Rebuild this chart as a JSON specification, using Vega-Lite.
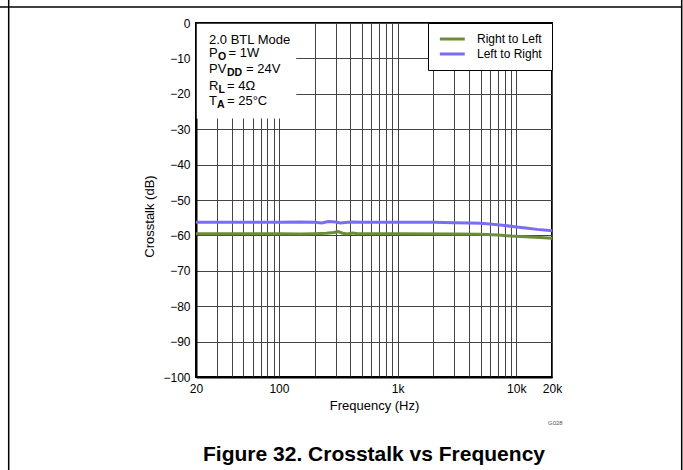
{
  "$schema": "https://vega.github.io/schema/vega-lite/v6.json",
  "autosize": "none",
  "width": 356,
  "height": 354,
  "padding": {"left": 196, "top": 23, "right": 131, "bottom": 93},
  "background": "white",
  "config": {
    "font": "Liberation Sans",
    "view": {"stroke": "black", "strokeWidth": 2},
    "axis": {"labelColor": "black", "titleColor": "black", "labelFont": "Liberation Sans", "titleFont": "Liberation Sans",
      "grid": true, "gridColor": "#444", "gridWidth": 1, "ticks": false, "domain": true, "domainColor": "black", "domainWidth": 2,
      "labelFontSize": 12, "labelPadding": 6, "labelFlush": false, "labelBound": false, "labelOverlap": false,
      "titleFontSize": 13, "titleFontWeight": "normal"},
    "axisX": {"tickCount": 30, "titlePadding": 5,
      "labelExpr": "indexof([20,100,1000,10000,20000], datum.value) >= 0 ? (datum.value >= 1000 ? (datum.value/1000) + 'k' : datum.value + '') : ''"},
    "axisY": {"tickCount": 11, "titlePadding": 6, "titleY": 193},
    "text": {"font": "Liberation Sans", "color": "black"}
  },
  "layer": [
    {
      "data": {"values": [
        {"f": 20, "db": -59.5, "series": "Right to Left"},
        {"f": 50, "db": -59.5, "series": "Right to Left"},
        {"f": 100, "db": -59.5, "series": "Right to Left"},
        {"f": 150, "db": -59.6, "series": "Right to Left"},
        {"f": 200, "db": -59.5, "series": "Right to Left"},
        {"f": 250, "db": -59.4, "series": "Right to Left"},
        {"f": 290, "db": -59.2, "series": "Right to Left"},
        {"f": 315, "db": -58.9, "series": "Right to Left"},
        {"f": 345, "db": -59.4, "series": "Right to Left"},
        {"f": 375, "db": -59.6, "series": "Right to Left"},
        {"f": 420, "db": -59.3, "series": "Right to Left"},
        {"f": 460, "db": -59.5, "series": "Right to Left"},
        {"f": 1000, "db": -59.5, "series": "Right to Left"},
        {"f": 3000, "db": -59.6, "series": "Right to Left"},
        {"f": 5000, "db": -59.7, "series": "Right to Left"},
        {"f": 7000, "db": -59.9, "series": "Right to Left"},
        {"f": 9000, "db": -60.2, "series": "Right to Left"},
        {"f": 12000, "db": -60.4, "series": "Right to Left"},
        {"f": 16000, "db": -60.6, "series": "Right to Left"},
        {"f": 20000, "db": -60.8, "series": "Right to Left"},
        {"f": 20, "db": -56.3, "series": "Left to Right"},
        {"f": 50, "db": -56.3, "series": "Left to Right"},
        {"f": 100, "db": -56.3, "series": "Left to Right"},
        {"f": 150, "db": -56.2, "series": "Left to Right"},
        {"f": 200, "db": -56.3, "series": "Left to Right"},
        {"f": 230, "db": -56.5, "series": "Left to Right"},
        {"f": 260, "db": -56.1, "series": "Left to Right"},
        {"f": 300, "db": -56.2, "series": "Left to Right"},
        {"f": 330, "db": -56.5, "series": "Left to Right"},
        {"f": 380, "db": -56.3, "series": "Left to Right"},
        {"f": 420, "db": -56.2, "series": "Left to Right"},
        {"f": 500, "db": -56.3, "series": "Left to Right"},
        {"f": 1000, "db": -56.3, "series": "Left to Right"},
        {"f": 2000, "db": -56.3, "series": "Left to Right"},
        {"f": 3000, "db": -56.4, "series": "Left to Right"},
        {"f": 4000, "db": -56.5, "series": "Left to Right"},
        {"f": 5000, "db": -56.6, "series": "Left to Right"},
        {"f": 6000, "db": -56.8, "series": "Left to Right"},
        {"f": 8000, "db": -57.2, "series": "Left to Right"},
        {"f": 10000, "db": -57.6, "series": "Left to Right"},
        {"f": 12000, "db": -57.9, "series": "Left to Right"},
        {"f": 15000, "db": -58.3, "series": "Left to Right"},
        {"f": 20000, "db": -58.7, "series": "Left to Right"}
      ]},
      "mark": {"type": "line", "strokeWidth": 3},
      "encoding": {
        "x": {"field": "f", "type": "quantitative", "scale": {"type": "log", "domain": [20, 20000], "nice": false}, "axis": {"title": "Frequency (Hz)"}},
        "y": {"field": "db", "type": "quantitative", "scale": {"domain": [-100, 0], "nice": false, "zero": false}, "axis": {"title": "Crosstalk (dB)"}},
        "color": {"field": "series", "type": "nominal",
          "scale": {"domain": ["Right to Left", "Left to Right"], "range": ["#6B8E35", "#7B6CF6"]},
          "legend": {"orient": "top-right", "offset": 0, "title": null, "fillColor": "white", "strokeColor": "black",
            "padding": 10, "symbolType": "M-1,0H5", "symbolSize": 69, "symbolStrokeWidth": 3, "labelOffset": 27, "rowPadding": 3,
            "labelFontSize": 12, "labelFont": "Liberation Sans", "labelColor": "black", "labelLimit": 200}}
      }
    },
    {
      "data": {"values": [{}]},
      "mark": {"type": "rect", "fill": "white"},
      "encoding": {"x": {"datum": 20.3}, "x2": {"datum": 140}, "y": {"datum": -0.3}, "y2": {"datum": -27}}
    },
    {"data": {"values": [{}]}, "mark": {"type": "text", "align": "left", "baseline": "middle", "fontSize": 13, "dx": 13, "dy": 17}, "encoding": {"x": {"datum": 20}, "y": {"datum": 0}, "text": {"value": "2.0 BTL Mode"}}},
    {"data": {"values": [{}]}, "mark": {"type": "text", "align": "left", "baseline": "middle", "fontSize": 13, "dx": 13, "dy": 30}, "encoding": {"x": {"datum": 20}, "y": {"datum": 0}, "text": {"value": "P"}}},
    {"data": {"values": [{}]}, "mark": {"type": "text", "align": "left", "baseline": "middle", "fontSize": 10.5, "fontWeight": "bold", "dx": 22, "dy": 33.5}, "encoding": {"x": {"datum": 20}, "y": {"datum": 0}, "text": {"value": "O"}}},
    {"data": {"values": [{}]}, "mark": {"type": "text", "align": "left", "baseline": "middle", "fontSize": 13, "dx": 32.5, "dy": 30}, "encoding": {"x": {"datum": 20}, "y": {"datum": 0}, "text": {"value": "= 1W"}}},
    {"data": {"values": [{}]}, "mark": {"type": "text", "align": "left", "baseline": "middle", "fontSize": 13, "dx": 13, "dy": 46}, "encoding": {"x": {"datum": 20}, "y": {"datum": 0}, "text": {"value": "PV"}}},
    {"data": {"values": [{}]}, "mark": {"type": "text", "align": "left", "baseline": "middle", "fontSize": 10.5, "fontWeight": "bold", "dx": 31, "dy": 49.5}, "encoding": {"x": {"datum": 20}, "y": {"datum": 0}, "text": {"value": "DD"}}},
    {"data": {"values": [{}]}, "mark": {"type": "text", "align": "left", "baseline": "middle", "fontSize": 13, "dx": 50, "dy": 46}, "encoding": {"x": {"datum": 20}, "y": {"datum": 0}, "text": {"value": "= 24V"}}},
    {"data": {"values": [{}]}, "mark": {"type": "text", "align": "left", "baseline": "middle", "fontSize": 13, "dx": 13, "dy": 63}, "encoding": {"x": {"datum": 20}, "y": {"datum": 0}, "text": {"value": "R"}}},
    {"data": {"values": [{}]}, "mark": {"type": "text", "align": "left", "baseline": "middle", "fontSize": 10.5, "fontWeight": "bold", "dx": 22.5, "dy": 66.5}, "encoding": {"x": {"datum": 20}, "y": {"datum": 0}, "text": {"value": "L"}}},
    {"data": {"values": [{}]}, "mark": {"type": "text", "align": "left", "baseline": "middle", "fontSize": 13, "dx": 31, "dy": 63}, "encoding": {"x": {"datum": 20}, "y": {"datum": 0}, "text": {"value": "= 4Ω"}}},
    {"data": {"values": [{}]}, "mark": {"type": "text", "align": "left", "baseline": "middle", "fontSize": 13, "dx": 13, "dy": 78}, "encoding": {"x": {"datum": 20}, "y": {"datum": 0}, "text": {"value": "T"}}},
    {"data": {"values": [{}]}, "mark": {"type": "text", "align": "left", "baseline": "middle", "fontSize": 10.5, "fontWeight": "bold", "dx": 21, "dy": 81.5}, "encoding": {"x": {"datum": 20}, "y": {"datum": 0}, "text": {"value": "A"}}},
    {"data": {"values": [{}]}, "mark": {"type": "text", "align": "left", "baseline": "middle", "fontSize": 13, "dx": 31, "dy": 78}, "encoding": {"x": {"datum": 20}, "y": {"datum": 0}, "text": {"value": "= 25°C"}}},
    {"data": {"values": [{}]}, "mark": {"type": "text", "align": "left", "baseline": "middle", "fontSize": 6, "color": "#555", "dx": -4, "dy": 46}, "encoding": {"x": {"datum": 20000}, "y": {"datum": -100}, "text": {"value": "G028"}}},
    {"data": {"values": [{}]}, "mark": {"type": "text", "align": "center", "baseline": "middle", "fontSize": 21, "fontWeight": "bold", "dy": 78}, "encoding": {"x": {"datum": 632.46}, "y": {"datum": -100}, "text": {"value": "Figure 32. Crosstalk vs Frequency"}}},
    {"data": {"values": [{}]}, "mark": {"type": "rule", "color": "black", "strokeWidth": 1.5}, "encoding": {"x": {"datum": 0.3}, "x2": {"datum": 247760}, "y": {"datum": 4.52}}},
    {"data": {"values": [{}]}, "mark": {"type": "rule", "color": "black", "strokeWidth": 1.5}, "encoding": {"x": {"datum": 0.528}, "y": {"datum": 8}, "y2": {"datum": -130}}},
    {"data": {"values": [{}]}, "mark": {"type": "rule", "color": "black", "strokeWidth": 1.5}, "encoding": {"x": {"datum": 247760}, "y": {"datum": 8}, "y2": {"datum": -130}}}
  ]
}
